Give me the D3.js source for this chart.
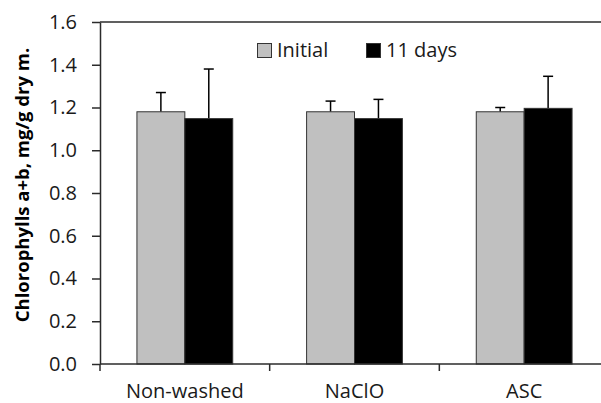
<!DOCTYPE html>
<html>
<head>
<meta charset="utf-8">
<script src="https://cdn.jsdelivr.net/npm/d3@7"></script>
<style>
  body { margin: 0; background: #fff; }
  svg { display: block; font-family: "Open Sans", sans-serif; }
</style>
</head>
<body>
<div id="content"></div>
<script>
// values
const categories = ["Non-washed", "NaClO", "ASC"];
const seriesNames = ["Initial", "11 days"];
const initial = [1.18, 1.18, 1.18];
const days11 = [1.148, 1.148, 1.196];
const initialErr = [0.09, 0.05, 0.02];
const days11Err = [0.232, 0.09, 0.15];
const yTicks = [0, 0.2, 0.4, 0.6, 0.8, 1.0, 1.2, 1.4, 1.6];

const W = 601, H = 403;
const margin = { top: 22, right: -8, bottom: 39, left: 100 };
const width = W - margin.left - margin.right;
const height = H - margin.top - margin.bottom;
const colors = ["#c0c0c0", "#000000"];
const axisColor = "#2b2b2b";

const svg = d3.select("#content")
  .append("svg")
  .attr("width", W)
  .attr("height", H);

const x0 = d3.scaleBand().domain(categories).range([0, width]).paddingInner(0).paddingOuter(0);
const x1 = d3.scaleBand().domain(seriesNames).range([0, x0.bandwidth()]).paddingInner(0).paddingOuter(0.771);
const y = d3.scaleLinear().domain([0, 1.6]).range([height, 0]);

const g = svg.append("g").attr("transform", `translate(${margin.left},${margin.top})`);

const rows = categories.map((c, i) => ({
  cat: c,
  vals: [
    { s: seriesNames[0], v: initial[i], e: initialErr[i], c: colors[0] },
    { s: seriesNames[1], v: days11[i], e: days11Err[i], c: colors[1] }
  ]
}));

// bars
const groups = g.selectAll("g.cat")
  .data(rows)
  .enter()
  .append("g")
  .attr("class", "cat")
  .attr("transform", d => `translate(${x0(d.cat)},0)`);

// error bars (upper only) behind bars
groups.selectAll("g.err")
  .data(d => d.vals)
  .enter()
  .append("g")
  .attr("class", "err")
  .each(function (d) {
    const cx = x1(d.s) + x1.bandwidth() / 2;
    const sel = d3.select(this);
    sel.append("line")
      .attr("x1", cx).attr("x2", cx)
      .attr("y1", y(d.v)).attr("y2", y(d.v + d.e))
      .attr("stroke", "#000").attr("stroke-width", 1.5);
    sel.append("line")
      .attr("x1", cx - 5).attr("x2", cx + 5)
      .attr("y1", y(d.v + d.e)).attr("y2", y(d.v + d.e))
      .attr("stroke", "#000").attr("stroke-width", 1.5);
  });

groups.selectAll("rect")
  .data(d => d.vals)
  .enter()
  .append("rect")
  .attr("x", d => x1(d.s))
  .attr("y", d => y(d.v))
  .attr("width", x1.bandwidth())
  .attr("height", d => y(0) - y(d.v))
  .attr("fill", d => d.c)
  .attr("stroke", "#333")
  .attr("stroke-width", 1);

// y axis
const yAxis = g.append("g")
  .call(d3.axisLeft(y).tickValues(yTicks).tickSize(8).tickSizeOuter(0).tickFormat(d3.format(".1f")));
yAxis.select(".domain").attr("stroke", axisColor).attr("stroke-width", 1.5);
yAxis.selectAll(".tick line").attr("stroke", axisColor).attr("stroke-width", 1.5);
yAxis.selectAll(".tick text")
  .attr("x", -23)
  .attr("fill", "#1a1a1a")
  .style("font-size", "20px")
  .style("font-family", "'Open Sans', sans-serif");

// top frame line
g.append("line")
  .attr("x1", 0).attr("x2", width)
  .attr("y1", 0).attr("y2", 0)
  .attr("stroke", axisColor).attr("stroke-width", 1.5);

// x axis: ticks at category boundaries
const xAxis = g.append("g").attr("transform", `translate(0,${height})`);
xAxis.append("line")
  .attr("x1", 0).attr("x2", width)
  .attr("y1", 0).attr("y2", 0)
  .attr("stroke", axisColor).attr("stroke-width", 1.5);
xAxis.selectAll("line.tk")
  .data(categories)
  .enter()
  .append("line")
  .attr("class", "tk")
  .attr("x1", d => x0(d)).attr("x2", d => x0(d))
  .attr("y1", 0).attr("y2", 7)
  .attr("stroke", axisColor).attr("stroke-width", 1.5);
xAxis.selectAll("text")
  .data(categories)
  .enter()
  .append("text")
  .attr("x", d => x0(d) + x0.bandwidth() / 2)
  .attr("y", 34)
  .attr("text-anchor", "middle")
  .attr("fill", "#1a1a1a")
  .style("font-size", "20px")
  .text(d => d);

// y title
svg.append("text")
  .attr("transform", `translate(29,${(37 + 333) / 2}) rotate(-90)`)
  .attr("text-anchor", "middle")
  .attr("fill", "#000")
  .style("font-size", "18.5px")
  .style("font-weight", "bold")
  .text("Chlorophylls a+b, mg/g dry m.");

// legend
const legendX = [257, 366];
const legend = svg.selectAll("g.legend")
  .data(seriesNames)
  .enter()
  .append("g")
  .attr("class", "legend")
  .attr("transform", (d, i) => `translate(${legendX[i]},43)`);
legend.append("rect")
  .attr("x", 0.5).attr("y", 0.5)
  .attr("width", 14).attr("height", 14)
  .attr("fill", (d, i) => colors[i])
  .attr("stroke", "#333").attr("stroke-width", 1);
legend.append("text")
  .attr("x", 20)
  .attr("y", 14)
  .attr("fill", "#1a1a1a")
  .style("font-size", "20px")
  .text(d => d);
</script>
</body>
</html>
